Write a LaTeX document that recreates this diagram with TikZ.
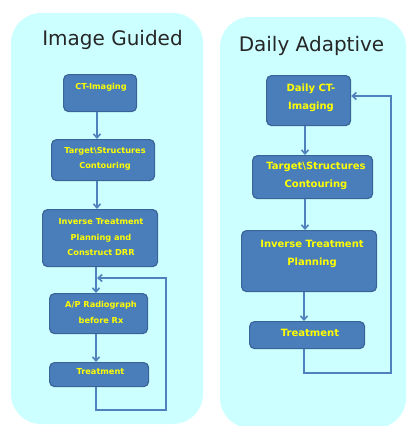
\documentclass[tikz,border=0pt]{standalone}
\usepackage{fontspec}
\setmainfont{DejaVu Sans}
\usetikzlibrary{arrows.meta}
\definecolor{panelbg}{HTML}{CCFFFF}
\definecolor{boxfill}{HTML}{4A7EBB}
\definecolor{boxline}{HTML}{3A6497}
\definecolor{arrcol}{HTML}{4F81BD}
\definecolor{txtyel}{HTML}{FFFF00}
\definecolor{titlecol}{HTML}{262626}
\tikzset{
  panel/.style={fill=panelbg, draw=none, rounded corners=30pt},
  box/.style={draw=boxline, fill=boxfill, line width=1.2pt, rounded corners=5pt, inner sep=0pt, anchor=north west},
  ltxt/.style={text=txtyel, font=\bfseries\fontsize{8.2}{15.5}\selectfont, align=center, inner sep=0pt},
  rtxt/.style={text=txtyel, font=\bfseries\fontsize{10}{18}\selectfont, align=center, inner sep=0pt},
  ttl/.style={text=titlecol, font=\fontsize{20}{24}\selectfont, inner sep=0pt},
  arr/.style={draw=arrcol, line width=1.6pt, -{Straight Barb[length=4pt,width=7pt]}},
  lnk/.style={draw=arrcol, line width=1.6pt}
}
\begin{document}
\begin{tikzpicture}[x=1pt,y=-1pt]
\useasboundingbox (0,0) rectangle (407,426);
% panels
\fill[panel] (11,13) rectangle (203,424);
\fill[panel] (220,17) rectangle (406,428);
% titles
\node[ttl] (t1) at (112.5,40) {Image Guided};
\node[ttl] (t2) at (311.5,46) {Daily Adaptive};
% left boxes
\node[box, minimum width=73pt, minimum height=37pt] (l1) at (63,74) {};
\node[box, minimum width=103pt, minimum height=41pt] (l2) at (51,139) {};
\node[box, minimum width=115pt, minimum height=57pt] (l3) at (42,209) {};
\node[box, minimum width=98pt, minimum height=40pt] (l4) at (49,293) {};
\node[box, minimum width=99pt, minimum height=24pt] (l5) at (49,362) {};
\node[ltxt] (l1t) at (101,87) {CT-Imaging};
\node[ltxt] (l2t) at (105,159) {Target\textbackslash Structures\\Contouring};
\node[ltxt] (l3t) at (101,237.5) {Inverse Treatment\\Planning and\\Construct DRR};
\node[ltxt] (l4t) at (101,312.5) {A/P Radiograph\\before Rx};
\node[ltxt] (l5t) at (100.5,372) {Treatment};
% right boxes
\node[box, minimum width=84pt, minimum height=50pt] (r1) at (266,75) {};
\node[box, minimum width=120pt, minimum height=43pt] (r2) at (252,155) {};
\node[box, minimum width=135pt, minimum height=61pt] (r3) at (241,230) {};
\node[box, minimum width=115pt, minimum height=27pt] (r4) at (249,321) {};
\node[rtxt] (r1t) at (311,98) {Daily CT-\\Imaging};
\node[rtxt] (r2t) at (316,176) {Target\textbackslash Structures\\Contouring};
\node[rtxt] (r3t) at (312,254) {Inverse Treatment\\Planning};
\node[rtxt] (r4t) at (310,333) {Treatment};
% connector coordinates
\coordinate (lxa) at (97,0);
\coordinate (lxb) at (96,0);
\coordinate (lc1) at (166,410);
\coordinate (lc2) at (166,278);
\coordinate (rxa) at (305,0);
\coordinate (rxb) at (304,0);
\coordinate (rc1) at (391,373);
\coordinate (rc2) at (391,96);
% left arrows
\draw[arr] (l1.south -| lxa) -- (l2.north -| lxa);
\draw[arr] (l2.south -| lxa) -- (l3.north -| lxa);
\draw[arr] (l3.south -| lxb) -- (l4.north -| lxb);
\draw[arr] (l4.south -| lxb) -- (l5.north -| lxb);
\draw[arr] (l5.south -| lxb) -- (lxb |- lc1) -- (lc1) -- (lc2) -- ([xshift=1pt]lxb |- lc2);
% right arrows
\draw[arr] (r1.south -| rxa) -- (r2.north -| rxa);
\draw[arr] (r2.south -| rxa) -- (r3.north -| rxa);
\draw[arr] (r3.south -| rxb) -- (r4.north -| rxb);
\draw[arr] (r4.south -| rxb) -- (rxb |- rc1) -- (rc1) -- (rc2) -- (r1.east |- rc2);
\end{tikzpicture}
\end{document}
